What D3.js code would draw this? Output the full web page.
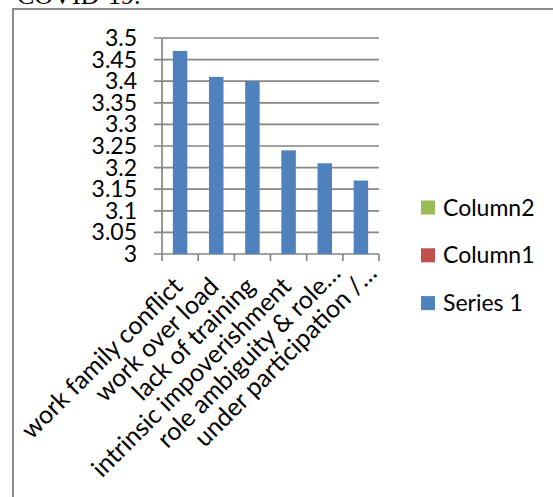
<!DOCTYPE html>
<html>
<head>
<meta charset="utf-8">
<script src="https://cdn.jsdelivr.net/npm/d3@7"></script>
<style>
  html, body { margin: 0; padding: 0; background: #fff; }
  svg { display: block; }
</style>
</head>
<body>
<svg id="chart" width="553" height="497"></svg>
<script>
// ---- data ----
const categories = [
  "work family conflict",
  "work over load",
  "lack of training",
  "intrinsic impoverishment",
  "role ambiguity & role\u2026",
  "under participation /\u2026"
];
const series1 = [3.47, 3.41, 3.40, 3.24, 3.21, 3.17];
const yTicks = [3, 3.05, 3.1, 3.15, 3.2, 3.25, 3.3, 3.35, 3.4, 3.45, 3.5];
const yTickLabels = ["3", "3.05", "3.1", "3.15", "3.2", "3.25", "3.3", "3.35", "3.4", "3.45", "3.5"];
const legendNames = ["Column2", "Column1", "Series 1"];
const legendColors = ["#9BBB59", "#C0504D", "#4F81BD"];
const titleText = "COVID-19.";

// ---- layout ----
const svg = d3.select("#chart");
const font = "Lato, 'DejaVu Sans', sans-serif";
const gridColor = "#868686";

// outer frame (extends beyond view)
svg.append("rect")
  .attr("x", 13).attr("y", 9)
  .attr("width", 700).attr("height", 700)
  .attr("fill", "none")
  .attr("stroke", "#8c8c8c")
  .attr("stroke-width", 2);

// cut-off title above frame
svg.append("text")
  .attr("x", 17).attr("y", 4)
  .attr("font-family", "'Liberation Serif', 'Times New Roman', serif")
  .attr("font-size", 26)
  .attr("fill", "#000")
  .text(titleText);

const x = d3.scaleBand()
  .domain(categories)
  .range([162, 379])
  .paddingInner(0.6)
  .paddingOuter(0.3);

const y = d3.scaleLinear()
  .domain([3, 3.5])
  .range([254, 38]);

// gridlines + y tick marks
svg.append("g")
  .selectAll("line")
  .data(yTicks)
  .join("line")
  .attr("x1", 154)
  .attr("x2", 379)
  .attr("y1", d => y(d))
  .attr("y2", d => y(d))
  .attr("stroke", gridColor)
  .attr("stroke-width", 1.7);

// y axis line
svg.append("line")
  .attr("x1", 162).attr("x2", 162)
  .attr("y1", y(3.5)).attr("y2", y(3))
  .attr("stroke", gridColor)
  .attr("stroke-width", 1.7);

// x category tick marks
const step = x.step();
const x0 = x.range()[0];
svg.append("g")
  .selectAll("line")
  .data(d3.range(categories.length + 1))
  .join("line")
  .attr("x1", i => x0 + i * step)
  .attr("x2", i => x0 + i * step)
  .attr("y1", y(3))
  .attr("y2", y(3) + 7)
  .attr("stroke", gridColor)
  .attr("stroke-width", 1.7);

// y tick labels
svg.append("g")
  .selectAll("text")
  .data(yTicks)
  .join("text")
  .attr("x", 137)
  .attr("y", d => y(d))
  .attr("dy", "0.35em")
  .attr("text-anchor", "end")
  .attr("font-family", font)
  .attr("font-size", 23)
  .attr("fill", "#000")
  .text((d, i) => yTickLabels[i]);

// bars
svg.append("g")
  .selectAll("rect")
  .data(series1)
  .join("rect")
  .attr("x", (d, i) => x(categories[i]))
  .attr("width", x.bandwidth())
  .attr("y", d => y(d))
  .attr("height", d => y(3) - y(d))
  .attr("fill", legendColors[2]);

// x category labels, rotated -45
const lab = svg.append("g")
  .selectAll("g")
  .data(categories)
  .join("g")
  .attr("transform", d => `translate(${x(d) + x.bandwidth() / 2 + 4},288) rotate(-45)`);

lab.append("text")
  .attr("text-anchor", "end")
  .attr("font-family", font)
  .attr("font-size", 25)
  .attr("fill", "#000")
  .text(d => d.replace("\u2026", ""));

lab.filter(d => d.endsWith("\u2026"))
  .append("text")
  .attr("text-anchor", "start")
  .attr("font-family", font)
  .attr("font-size", 25)
  .attr("fill", "#000")
  .text("\u2026");

// legend
const leg = svg.append("g")
  .selectAll("g")
  .data(legendNames)
  .join("g")
  .attr("transform", (d, i) => `translate(421,${207.5 + i * 47.8})`);

leg.append("rect")
  .attr("x", 0).attr("y", -7)
  .attr("width", 14).attr("height", 14)
  .attr("fill", (d, i) => legendColors[i]);

leg.append("text")
  .attr("x", 22)
  .attr("y", 0)
  .attr("dy", "0.35em")
  .attr("font-family", font)
  .attr("font-size", 23)
  .attr("fill", "#000")
  .text(d => d);
</script>
</body>
</html>
